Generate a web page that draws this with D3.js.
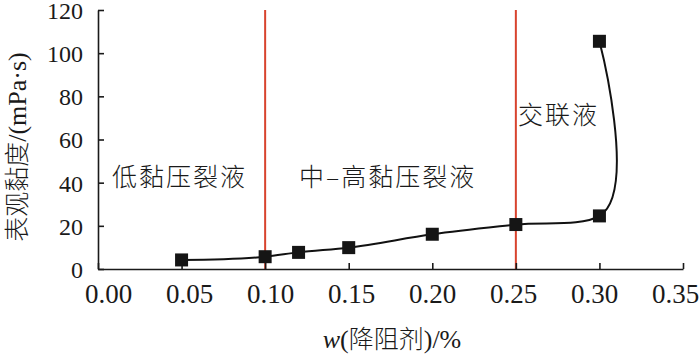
<!DOCTYPE html>
<html><head><meta charset="utf-8">
<script src="https://cdn.jsdelivr.net/npm/d3@7"></script>
</head>
<body style="margin:0;background:#fff"><svg id="c" width="700" height="364"></svg>
<script>
const xValues = [0.05, 0.10, 0.12, 0.15, 0.20, 0.25, 0.30, 0.30];
const viscosity = [4.2, 5.7, 7.7, 9.9, 16.1, 20.6, 24.6, 105.5];
const xTicks = [0, 0.05, 0.10, 0.15, 0.20, 0.25, 0.30, 0.35];
const yTicks = [0, 20, 40, 60, 80, 100, 120];
const boundaries = [0.10, 0.25];
const regionLabels = ["低黏压裂液", "中–高黏压裂液", "交联液"];

const SERIF = "Liberation Serif";
const CJK = "Noto Sans CJK SC";
const W = 700, H = 364;
const m = {left: 98, right: 17, top: 10, bottom: 95};
const svg = d3.select("#c");
const x = d3.scaleLinear().domain([0, 0.35]).range([m.left, W - m.right]);
const y = d3.scaleLinear().domain([0, 120]).range([H - m.bottom, m.top]);
// tick labels in the reference sit on a slightly narrower span than the ticks
const xLab = d3.scaleLinear().domain([0, 0.35]).range([108, 675]);

svg.selectAll("line.b").data(boundaries).join("line")
  .attr("x1", d => x(d)).attr("x2", d => x(d))
  .attr("y1", y(120)).attr("y2", y(0))
  .attr("stroke", "#d8432e").attr("stroke-width", 2);

const xAxis = svg.append("g").attr("transform", `translate(0,${y(0)})`)
  .call(d3.axisBottom(x).tickValues(xTicks).tickFormat(d3.format(".2f")).tickSizeInner(-6).tickSizeOuter(0).tickPadding(16));
const yAxis = svg.append("g").attr("transform", `translate(${m.left},0)`)
  .call(d3.axisLeft(y).tickValues(yTicks).tickSizeInner(-6).tickSizeOuter(0).tickPadding(15));
xAxis.attr("font-family", SERIF).attr("font-size", 27);
yAxis.attr("font-family", SERIF).attr("font-size", 24);
[xAxis, yAxis].forEach(g => {
  g.select(".domain").attr("stroke", "#1a1a1a").attr("stroke-width", 1.6);
  g.selectAll(".tick line").attr("stroke", "#1a1a1a").attr("stroke-width", 1.6);
  g.selectAll(".tick text").attr("fill", "#1a1a1a").attr("font-family", SERIF);
});
xAxis.selectAll(".tick text").attr("font-size", 27).attr("dy", "0.71em").attr("y", 15)
  .attr("x", d => xLab(d) - x(d));
yAxis.selectAll(".tick text").attr("font-size", 24).attr("dy", "0.35em");

const pts = xValues.map((v, i) => [v, viscosity[i]]);
svg.append("path").datum(pts)
  .attr("fill", "none").attr("stroke", "#111").attr("stroke-width", 2)
  .attr("d", d3.line().x(d => x(d[0])).y(d => y(d[1])).curve(d3.curveCatmullRom.alpha(1)));

const s = 13;
svg.selectAll("rect.p").data(pts).join("rect")
  .attr("x", d => x(d[0]) - s / 2).attr("y", d => y(d[1]) - s / 2)
  .attr("width", s).attr("height", s).attr("fill", "#151515");

const lab = [[112, 186], [299, 186], [518, 124]];
svg.selectAll("text.r").data(regionLabels).join("text")
  .attr("x", (d, i) => lab[i][0]).attr("y", (d, i) => lab[i][1])
  .attr("fill", "#1a1a1a")
  .attr("font-family", CJK).attr("font-weight", 300).attr("font-size", 25)
  .attr("letter-spacing", "2px")
  .text(d => d);

const yt = svg.append("text").attr("transform", "translate(26,147) rotate(-90)")
  .attr("text-anchor", "middle").attr("fill", "#1a1a1a")
  .attr("font-family", SERIF).attr("font-size", 26);
yt.append("tspan").attr("font-family", CJK).attr("font-weight", 300).attr("font-size", 25).text("表观黏度");
yt.append("tspan").text("/(mPa·s)");

const xt = svg.append("text").attr("x", 392).attr("y", 348).attr("text-anchor", "middle").attr("fill", "#1a1a1a")
  .attr("font-family", SERIF).attr("font-size", 26);
xt.append("tspan").attr("font-style", "italic").text("w");
xt.append("tspan").text("(");
xt.append("tspan").attr("font-family", CJK).attr("font-weight", 300).attr("font-size", 25).text("降阻剂");
xt.append("tspan").text(")/%");
</script></body></html>
